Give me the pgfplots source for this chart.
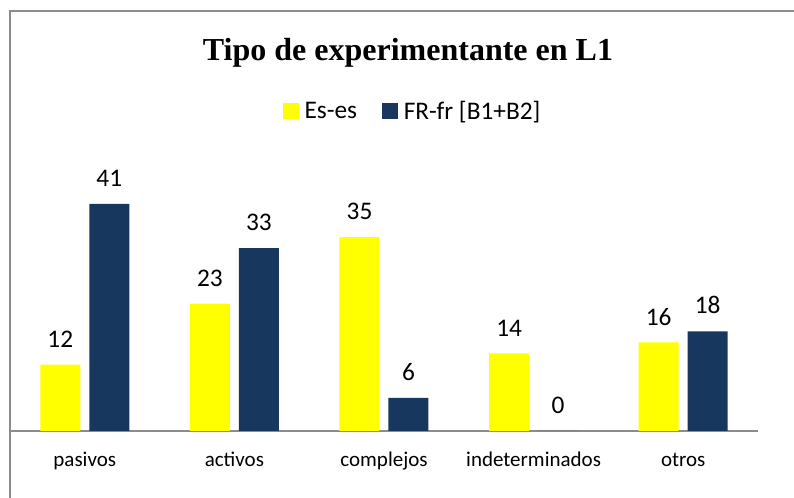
\documentclass[border=0pt]{standalone}
\usepackage{fontspec}
\setmainfont{Carlito}
\newfontfamily\titlefont{Liberation Serif}
\usepackage{pgfplots}
\pgfplotsset{compat=1.18}

\definecolor{esyellow}{HTML}{FFFF00}
\definecolor{frnavy}{HTML}{17375E}
\definecolor{framegray}{HTML}{8C8C8C}

\begin{document}
\begin{tikzpicture}[x=0.75pt, y=0.75pt]
% page = 794 x 498 px
\useasboundingbox (0,0) rectangle (794,498);
\draw[framegray, line width=1.1pt] (10,-5) -- (10,487) -- (800,487);

\node[anchor=base, font=\titlefont\bfseries\fontsize{24}{28}\selectfont] at (408,437) {Tipo de experimentante en L1};

\begin{axis}[
    at={(7.5pt,50.25pt)}, anchor=south west,
    scale only axis,
    width=561pt, height=186.9pt,
    xmin=-0.5, xmax=4.5,
    ymin=0, ymax=45,
    ybar=6.75pt, bar width=30pt,
    axis x line*=bottom,
    hide y axis,
    axis line style={framegray, line width=1pt},
    xtick={0,1,2,3,4},
    xticklabels={pasivos, activos, complejos, indeterminados, otros},
    xtick style={draw=none},
    xticklabel style={anchor=base, yshift=-22pt, font=\fontsize{15.75}{18}\selectfont},
    /pgf/number format/assume math mode=true,
    nodes near coords,
    every node near coord/.append style={anchor=base, yshift=13pt, font=\fontsize{19}{22}\selectfont, text=black},
    clip=false,
    legend columns=2,
    legend style={draw=none, fill=none, at={(0.3596,1.284)}, anchor=west,
        font=\fontsize{19}{22}\selectfont,
        /tikz/every odd column/.append style={column sep=2pt},
        /tikz/every even column/.append style={column sep=17pt}},
    legend image code/.code={\fill[#1] (0pt,-6pt) rectangle (12pt,6pt);},
]
\addplot[fill=esyellow, draw=none] coordinates {(0,12) (1,23) (2,35) (3,14) (4,16)};
\addplot[fill=frnavy, draw=none] coordinates {(0,41) (1,33) (2,6) (3,0) (4,18)};
\legend{Es-es, FR-fr [B1+B2]}
\end{axis}
\end{tikzpicture}
\end{document}
